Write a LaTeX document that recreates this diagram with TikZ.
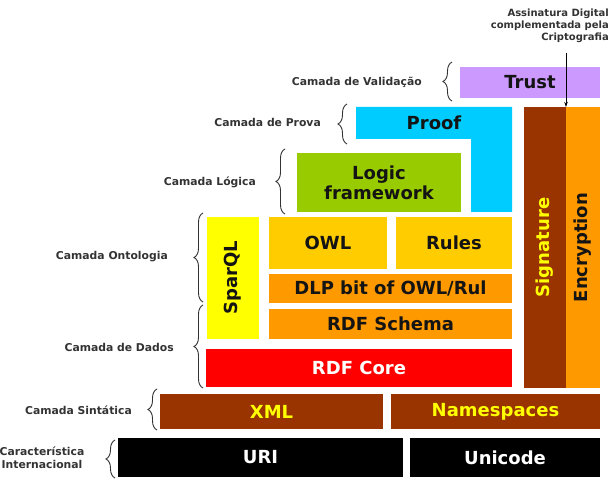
\documentclass[tikz,border=0pt]{standalone}
\usepackage{fontspec}
\setmainfont{DejaVu Sans}
\usetikzlibrary{decorations.pathreplacing,arrows.meta}
\definecolor{ctrust}{RGB}{204,153,255}
\definecolor{cproof}{RGB}{0,204,255}
\definecolor{clogic}{RGB}{153,204,0}
\definecolor{cspar}{RGB}{255,255,0}
\definecolor{cowl}{RGB}{255,204,0}
\definecolor{corange}{RGB}{255,153,0}
\definecolor{cred}{RGB}{255,0,0}
\definecolor{cbrown}{RGB}{153,51,0}
\definecolor{clabel}{RGB}{51,51,51}
\definecolor{ctext}{RGB}{20,20,20}
\begin{document}
\begin{tikzpicture}[x=1pt,y=-1pt,
  box/.style={inner sep=0pt, outer sep=0pt, font=\fontsize{18}{22}\selectfont\bfseries, align=center, text=ctext},
  lbl/.style={font=\fontsize{10.8}{12.5}\selectfont\bfseries, text=clabel, inner sep=0pt, anchor=east},
  brc/.style={decorate, decoration={brace, amplitude=9pt}, draw=clabel, line width=0.9pt}]
\useasboundingbox[fill=white] (0,0) rectangle (611,497);

% top annotation
\node[font=\fontsize{10}{12}\selectfont\bfseries, text=clabel, align=right, anchor=north east, inner sep=0pt] (ann) at (609,9) {Assinatura Digital\\complementada pela\\Criptografia};
\coordinate (arrtop) at (566,53);

% boxes
\node[box, fill=ctrust, minimum width=140pt, minimum height=31pt] (trust) at (530,82.5) {Trust};
\fill[cproof] (356,107) -- (512,107) -- (512,212) -- (471,212) -- (471,139) -- (356,139) -- cycle;
\node[box] (proof) at (434,123) {Proof};
\node[box, fill=clogic, minimum width=164pt, minimum height=59pt] (logic) at (379,182.5) {Logic\\[-2pt]framework};

\node[box, fill=cbrown, minimum width=42pt, minimum height=281pt] (sig) at (545,247.5) {};
\node[box, rotate=90, text=cspar] (sigt) at (sig.center) {Signature};
\node[box, fill=corange, minimum width=34pt, minimum height=281pt] (enc) at (583,247.5) {};
\node[box, rotate=90] (enct) at (enc.center) {Encryption};

\node[box, fill=cspar, minimum width=52pt, minimum height=122pt] (spar) at (233,278) {};
\node[box, rotate=90] (spart) at (spar.center) {SparQL};

\node[box, fill=cowl, minimum width=118pt, minimum height=52pt] (owl) at (328,243) {OWL};
\node[box, fill=cowl, minimum width=116pt, minimum height=52pt] (rules) at (454,243) {Rules};
\node[box, fill=corange, minimum width=243pt, minimum height=29pt] (dlp) at (390.5,288.5) {DLP bit of OWL/Rul};
\node[box, fill=corange, minimum width=243pt, minimum height=30pt] (rdfs) at (390.5,324) {RDF Schema};
\node[box, fill=cred, text=white, minimum width=306pt, minimum height=38pt] (rdfc) at (359,368) {RDF Core};
\node[box, fill=cbrown, text=cspar, minimum width=223pt, minimum height=35pt] (xml) at (271.5,411.5) {XML};
\node[box, fill=cbrown, text=cspar, minimum width=209pt, minimum height=35pt] (ns) at (495.5,411.5) {Namespaces};
\node[box, fill=black, text=white, minimum width=285pt, minimum height=39pt] (uri) at (260.5,457.5) {URI};
\node[box, fill=black, text=white, minimum width=190pt, minimum height=39pt] (uni) at (505,457.5) {Unicode};

\draw[line width=0.8pt, -{Stealth[length=5pt,width=3.5pt]}] (arrtop) -- (sig.north east);

% braces
\draw[brc] (452,101) -- (452,62);
\draw[brc] (347,144) -- (347,104);
\draw[brc] (285,214) -- (285,149);
\draw[brc] (203,302) -- (203,213);
\draw[brc] (203,388) -- (203,305);
\draw[brc] (157,430) -- (157,389);
\draw[brc] (115,478) -- (115,440);

% labels
\node[lbl] (lval) at (422,82) {Camada de Validação};
\node[lbl] (lprova) at (321,122) {Camada de Prova};
\node[lbl] (llog) at (256,182) {Camada Lógica};
\node[lbl] (lont) at (168,257) {Camada Ontologia};
\node[lbl] (ldad) at (174,347) {Camada de Dados};
\node[lbl] (lsin) at (132,410) {Camada Sintática};
\node[lbl, anchor=center, align=center] (lint) at (42,458) {Característica\\Internacional};
\end{tikzpicture}
\end{document}
